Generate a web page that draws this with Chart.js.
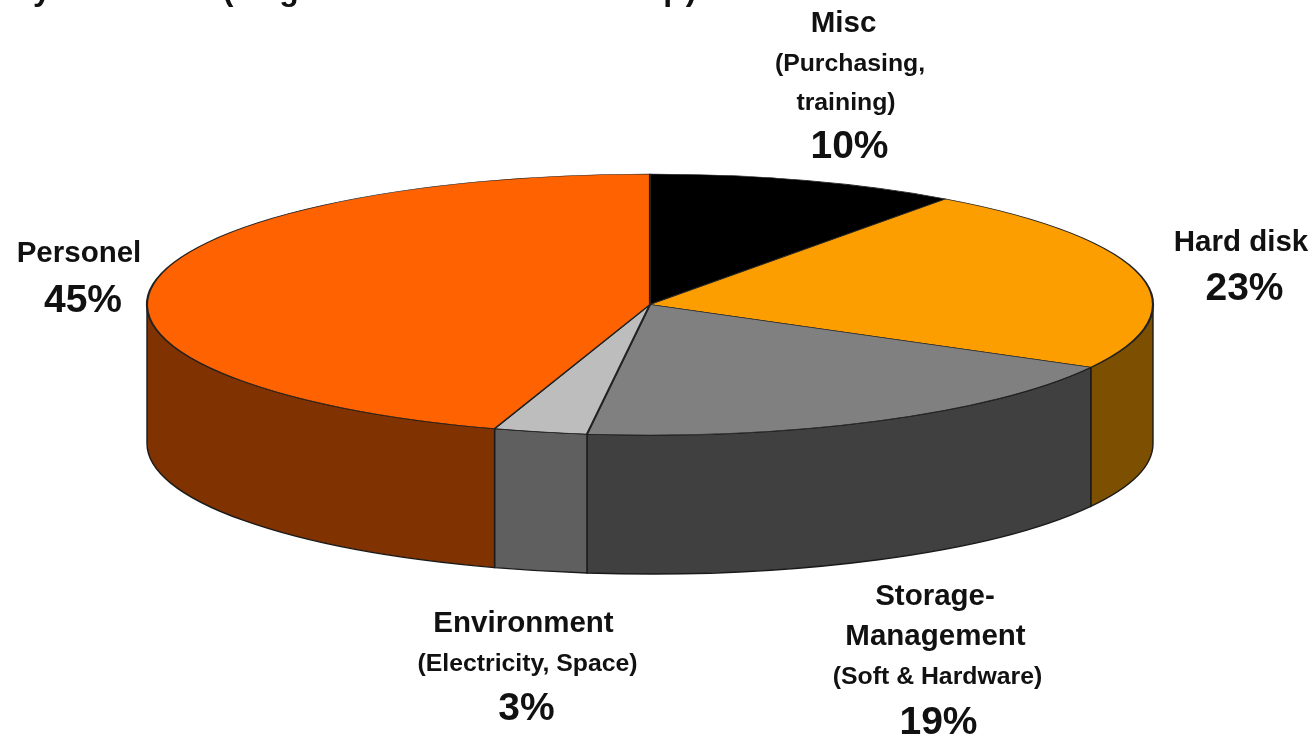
<!DOCTYPE html>
<html lang="en">
  <head>
    <meta charset="UTF-8" />
    <title>Cost breakdown pie</title>
    <script src="https://cdn.jsdelivr.net/npm/chart.js"></script>
    <style>
      html,
      body {
        margin: 0;
        padding: 0;
        width: 100%;
        height: 100%;
        overflow: hidden;
        background-color: #fff;
      }
      #wrap {
        position: absolute;
        left: 0;
        top: 0;
        width: 1314px;
        height: 736px;
      }
      canvas#pie {
        display: block;
      }
    </style>
  </head>
  <body>
    <div id="wrap"><canvas id="pie"></canvas></div>
    <script>
      const categories = ["Misc", "Hard disk", "Storage-Management", "Environment", "Personel"];
      const shares = [10, 23, 19, 3, 45];
      const topColors = ["#000000", "#fc9e00", "#808080", "#bdbdbd", "#ff6200"];
      const sideColors = ["#000000", "#7c5000", "#404040", "#5f5f5f", "#803200"];

      // the title is cut off by the page edge, only these letter bottoms can be read
      const titleFragments = [
        ["y", 42],
        ["(", 228],
        ["g", 289],
        ["p", 673],
        [")", 691],
      ];

      // one entry per text line: text, centre x, baseline y, font size
      const labelLines = [
        ["Misc", 843.5, 32, 29.5],
        ["(Purchasing,", 850, 71, 24.8],
        ["training)", 846, 110, 24.8],
        ["10%", 849.5, 158, 39],
        ["Hard disk", 1241, 251, 29.5],
        ["23%", 1244.5, 300, 39],
        ["Personel", 79, 262, 29.5],
        ["45%", 83, 312, 39],
        ["Environment", 523.5, 632, 29.5],
        ["(Electricity, Space)", 527.5, 671, 24.8],
        ["3%", 526.5, 720, 39],
        ["Storage-", 935, 605, 29.5],
        ["Management", 935.5, 645, 29.5],
        ["(Soft & Hardware)", 937.5, 684, 24.8],
        ["19%", 938.5, 734, 39],
      ];

      // where the flattened pie sits on the page
      const PIE_X = 650;
      const PIE_Y = 304.5;
      const RX = 503;
      const RY = 130.5;
      const DEPTH = 139;

      function flatten(chart, ctx) {
        const arc = chart.getDatasetMeta(0).data[0];
        const r = arc.outerRadius;
        ctx.translate(PIE_X, PIE_Y);
        ctx.scale(RX / r, RY / r);
        ctx.translate(-arc.x, -arc.y);
      }

      // outline of the pie wall for one slice, angles come from the arc element
      function wallPath(ctx, from, to) {
        ctx.beginPath();
        ctx.ellipse(PIE_X, PIE_Y, RX, RY, 0, from, to);
        ctx.lineTo(PIE_X + RX * Math.cos(to), PIE_Y + RY * Math.sin(to) + DEPTH);
        ctx.ellipse(PIE_X, PIE_Y + DEPTH, RX, RY, 0, to, from, true);
        ctx.closePath();
      }

      const pie3d = {
        id: "pie3d",
        beforeDatasetsDraw(chart) {
          const ctx = chart.ctx;
          const arcs = chart.getDatasetMeta(0).data;
          // front half only, the back of the wall is hidden by the top face
          arcs.forEach((arc, i) => {
            const from = Math.max(arc.startAngle, 0);
            const to = Math.min(arc.endAngle, Math.PI);
            if (to <= from) return;
            ctx.save();
            wallPath(ctx, from, to);
            ctx.fillStyle = sideColors[i];
            ctx.fill();
            ctx.lineWidth = 1.4;
            ctx.strokeStyle = "#1a1a1a";
            ctx.stroke();
            ctx.restore();
          });
          ctx.save();
          flatten(chart, ctx);
        },
        afterDatasetsDraw(chart) {
          chart.ctx.restore();
        },
        afterDraw(chart) {
          const ctx = chart.ctx;
          ctx.save();
          ctx.fillStyle = "#111";
          ctx.textAlign = "center";
          ctx.textBaseline = "alphabetic";
          ctx.font = 'bold 32px "Liberation Sans", Arial, sans-serif';
          titleFragments.forEach(([text, x]) => ctx.fillText(text, x, 0));
          labelLines.forEach(([text, x, y, size]) => {
            ctx.font = "bold " + size + 'px "Liberation Sans", Arial, sans-serif';
            ctx.fillText(text, x, y);
          });
          ctx.restore();
        },
      };

      new Chart(document.getElementById("pie").getContext("2d"), {
        type: "pie",
        data: {
          labels: categories,
          datasets: [
            {
              data: shares,
              backgroundColor: topColors,
              borderColor: "#222",
              borderWidth: 1.6,
              borderAlign: "center",
            },
          ],
        },
        options: {
          responsive: true,
          maintainAspectRatio: false,
          animation: false,
          plugins: { legend: { display: false }, tooltip: { enabled: false } },
        },
        plugins: [pie3d],
      });
    </script>
  </body>
</html>
